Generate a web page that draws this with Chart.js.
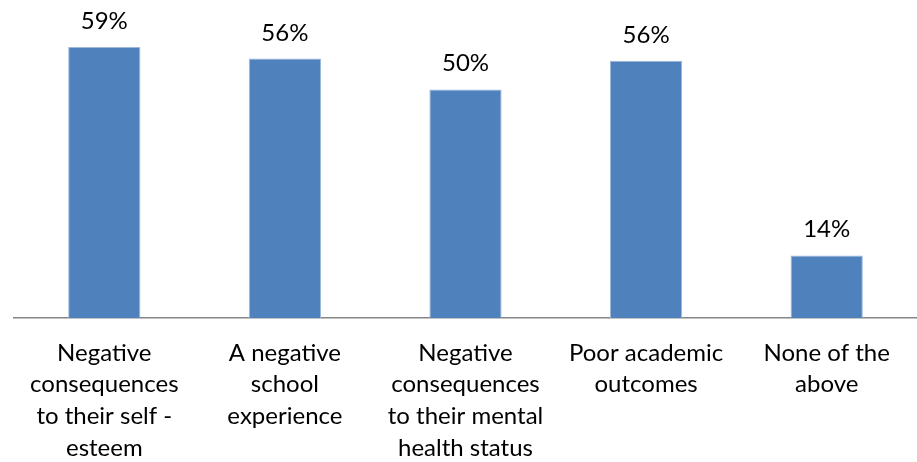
<!DOCTYPE html>
<html>
<head>
<meta charset="utf-8">
<script src="https://cdn.jsdelivr.net/npm/chart.js@4"></script>
<style>
html,body{margin:0;padding:0;background:#fff;}
#wrap{width:917px;height:462px;position:relative;}
</style>
</head>
<body>
<div id="wrap"><canvas id="c" width="917" height="462"></canvas></div>
<script>
const categories = [
  ["Negative", "consequences", "to their self -", "esteem"],
  ["A negative", "school", "experience"],
  ["Negative", "consequences", "to their mental", "health status"],
  ["Poor academic", "outcomes"],
  ["None of the", "above"]
];
const values = [58.9, 56.4, 49.7, 55.9, 13.6];
const FONT = "Lato, 'Open Sans', sans-serif";

const valueLabels = {
  id: 'valueLabels',
  afterDatasetsDraw(chart) {
    const ctx = chart.ctx;
    const meta = chart.getDatasetMeta(0);
    ctx.save();
    ctx.font = "24px " + FONT;
    ctx.fillStyle = "#000";
    ctx.textAlign = "center";
    ctx.textBaseline = "alphabetic";
    meta.data.forEach((bar, i) => {
      ctx.fillText(Math.round(values[i]) + "%", bar.x, bar.y - 18);
    });
    ctx.restore();
  }
};

new Chart(document.getElementById('c'), {
  type: 'bar',
  data: {
    labels: categories,
    datasets: [{
      data: values,
      backgroundColor: '#4F81BD',
      borderColor: '#9db8da',
      borderWidth: 1,
      barPercentage: 0.4,
      categoryPercentage: 1.0
    }]
  },
  options: {
    responsive: false,
    animation: false,
    layout: { padding: { top: 42, left: 14, right: 0, bottom: 0 } },
    plugins: { legend: { display: false }, tooltip: { enabled: false } },
    scales: {
      x: {
        grid: { display: false, drawTicks: false },
        border: { display: true, color: '#868686', width: 1.5 },
        ticks: {
          color: '#000',
          font: { family: FONT, size: 24, lineHeight: 1.32 },
          padding: 19,
          maxRotation: 0,
          autoSkip: false
        },
        afterFit(scale) { scale.height = 144; }
      },
      y: {
        display: false,
        min: 0,
        max: 60
      }
    }
  },
  plugins: [valueLabels]
});
</script>
</body>
</html>
